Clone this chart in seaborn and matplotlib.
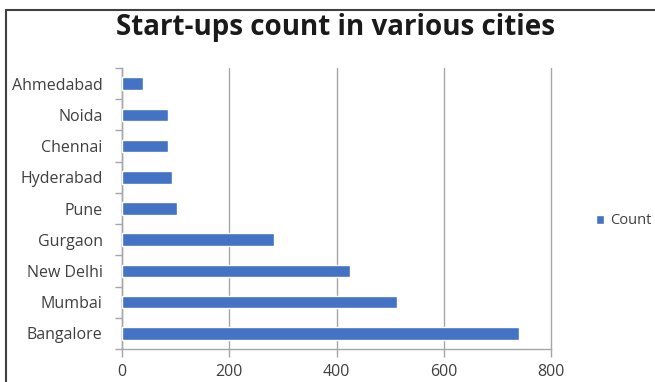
import matplotlib
matplotlib.use("Agg")
import matplotlib.pyplot as plt
from matplotlib.lines import Line2D
import seaborn as sns
import pandas as pd

cities = ["Ahmedabad", "Noida", "Chennai", "Hyderabad", "Pune",
          "Gurgaon", "New Delhi", "Mumbai", "Bangalore"]
counts = [40, 85, 85, 94, 102, 283, 426, 513, 741]
xticks = [0, 200, 400, 600, 800]

sns.set_theme(style="white")
plt.rcParams["font.family"] = ["Open Sans", "DejaVu Sans"]

df = pd.DataFrame({"City": cities, "Count": counts})

fig = plt.figure(figsize=(6.55, 3.82), dpi=100)
ax = fig.add_axes([122/655, 1-349/382, 429/655, 281/382])

sns.barplot(data=df, y="City", x="Count", order=cities, orient="h",
            color="#4472C4", saturation=1, width=0.4, ax=ax, zorder=3)

ax.set_xlim(0, 800)
ax.set_xticks(xticks)
ax.set_xticklabels([str(v) for v in xticks])
ax.set_ylim(len(cities) - 0.5, -0.5)
ax.set_xlabel("")
ax.set_ylabel("")
ax.grid(axis="x", color="#A6A6A6", linewidth=1.0, zorder=0)
ax.grid(axis="y", visible=False)
for gl in ax.get_xgridlines():
    gl.set_clip_on(False)

for s in ["top", "right"]:
    ax.spines[s].set_visible(False)
for s in ["left", "bottom"]:
    ax.spines[s].set_color("#A6A6A6")
    ax.spines[s].set_linewidth(1.0)

# y ticks between categories
ax.set_yticks(range(len(cities)))
ax.set_yticklabels(cities)
ax.set_yticks([i - 0.5 for i in range(len(cities) + 1)], minor=True)
ax.tick_params(axis="y", which="major", length=0, pad=14, labelsize=11.5, labelcolor="#404040")
ax.tick_params(axis="y", which="minor", length=5, width=1, color="#A6A6A6", direction="out", left=True)
ax.tick_params(axis="x", which="major", length=6, width=1, color="#A6A6A6", direction="out",
               bottom=True, pad=5, labelsize=11.5, labelcolor="#404040")

fig.text(336/655, 1-28/382, "Start-ups count in various cities", ha="center", va="center",
         fontsize=20, fontweight="bold", color="#1a1a1a")

leg = ax.legend([ax.patches[0]], ["Count"], loc="center left",
                bbox_to_anchor=(590/655, 1-221/382), bbox_transform=fig.transFigure,
                frameon=False, handlelength=0.55, handleheight=0.55, handletextpad=0.4,
                fontsize=10.5, borderaxespad=0)
for t in leg.get_texts():
    t.set_color("#404040")

# outer frame (top and left edges)
fig.add_artist(Line2D([6/655, 1], [1-10/382, 1-10/382], transform=fig.transFigure,
                      color="#404040", linewidth=1.5))
fig.add_artist(Line2D([6/655, 6/655], [0, 1-10/382], transform=fig.transFigure,
                      color="#404040", linewidth=1.5))

fig.savefig("out.png", dpi=100)
